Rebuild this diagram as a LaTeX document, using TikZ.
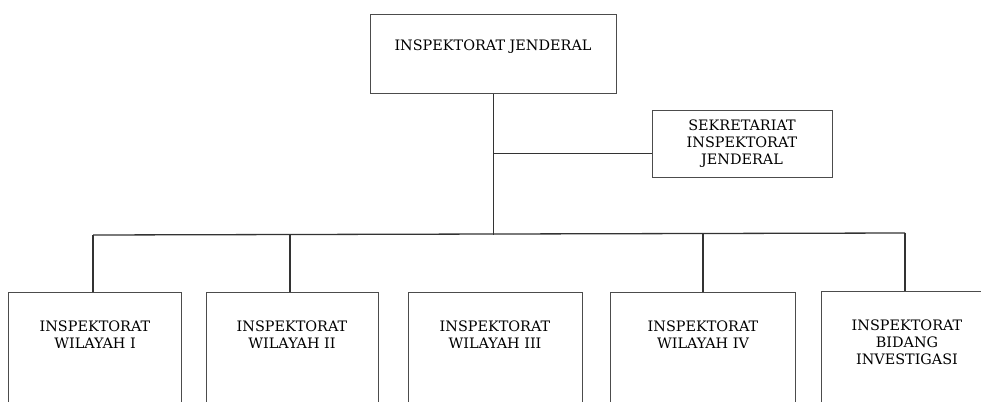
\documentclass[tikz,border=0pt]{standalone}
\usepackage{fontspec}
\setmainfont{DejaVu Serif}
\begin{document}
\begin{tikzpicture}[x=1pt,y=-1pt,
  orgbox/.style={draw=black!70, line width=1.4pt, rectangle, inner sep=0pt},
  orgtext/.style={align=center, font=\fontsize{14.4}{17.2}\selectfont, inner sep=0pt, text=black},
  conn/.style={draw=black!80, line width=1.3pt}]
\useasboundingbox (0,0) rectangle (981,401);
\clip (0,0) rectangle (981,401);
% top
\node[orgbox, minimum width=246pt, minimum height=79pt, anchor=north west] (ij) at (370,14) {};
\node[orgtext] (ijt) at (493,47) {INSPEKTORAT JENDERAL};
% secretariat
\node[orgbox, minimum width=180pt, minimum height=67pt, anchor=north west] (sek) at (652,110) {};
\node[orgtext] (sekt) at (742,143.5) {SEKRETARIAT\\INSPEKTORAT\\JENDERAL};
% bottom boxes
\node[orgbox, minimum width=173pt, minimum height=160pt, anchor=north west] (b1) at (8,292) {};
\node[orgbox, minimum width=172pt, minimum height=160pt, anchor=north west] (b2) at (206,292) {};
\node[orgbox, minimum width=174pt, minimum height=160pt, anchor=north west] (b3) at (408,292) {};
\node[orgbox, minimum width=185pt, minimum height=160pt, anchor=north west] (b4) at (610,292) {};
\node[orgbox, minimum width=168pt, minimum height=160pt, anchor=north west] (b5) at (821,291) {};
\node[orgtext] (b1t) at (95,334.5) {INSPEKTORAT\\WILAYAH I};
\node[orgtext] (b2t) at (292,334.5) {INSPEKTORAT\\WILAYAH II};
\node[orgtext] (b3t) at (495,334.5) {INSPEKTORAT\\WILAYAH III};
\node[orgtext] (b4t) at (703,334.5) {INSPEKTORAT\\WILAYAH IV};
\node[orgtext] (b5t) at (907,342) {INSPEKTORAT\\BIDANG\\INVESTIGASI};
% connectors
\coordinate (barL) at (93,235);
\coordinate (barR) at (905,233);
\coordinate (junS) at (493,153.5);
\path[conn] (ij.south) -- (ij.south |- barL);
\path[conn] (junS) -- (sek.west |- junS);
\path[conn] (barL) -- (barR);
\path[conn] (barL) -- (barL |- b1.north);
\path[conn] (290,234.5) coordinate (d2) -- (d2 |- b2.north);
\path[conn] (703,233.5) coordinate (d4) -- (d4 |- b4.north);
\path[conn] (barR) -- (barR |- b5.north);
\end{tikzpicture}
\end{document}
